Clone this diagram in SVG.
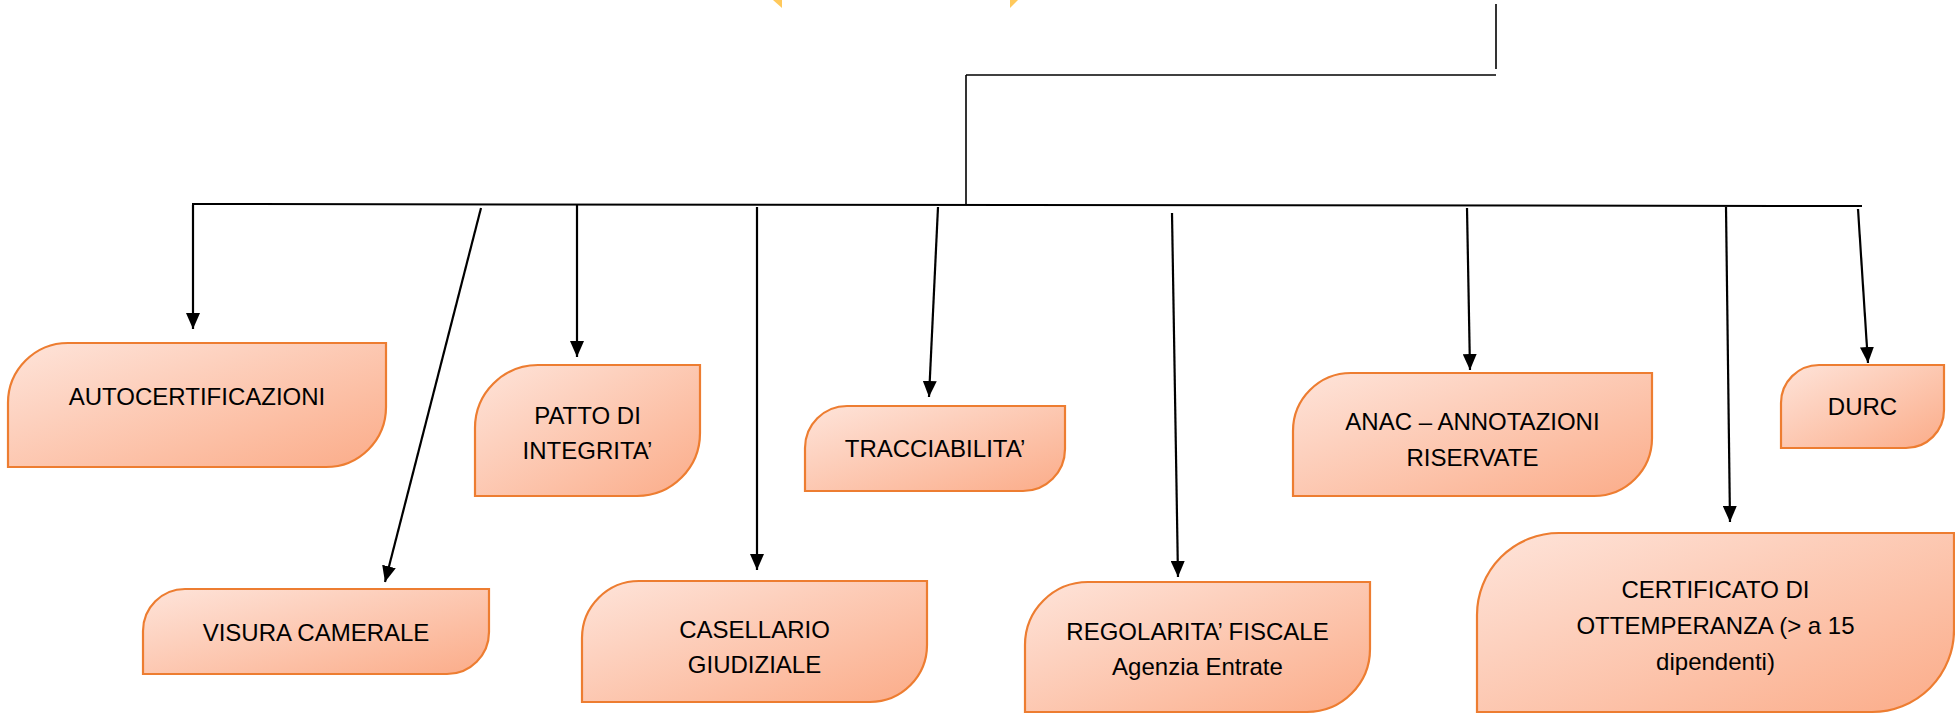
<svg xmlns="http://www.w3.org/2000/svg" width="1955" height="715" viewBox="0 0 1955 715">
<defs>
<linearGradient id="g" x1="0" y1="0" x2="1" y2="1">
<stop offset="0" stop-color="#FEE4DA"/>
<stop offset="1" stop-color="#FBAC89"/>
</linearGradient>
<marker id="ah" viewBox="0 0 16 14" refX="16" refY="7" markerWidth="16" markerHeight="14" markerUnits="userSpaceOnUse" orient="auto">
<path d="M0,0 L16,7 L0,14 Z" fill="#000"/>
</marker>
</defs>
<style>
.box{fill:url(#g);stroke:#ED7D31;stroke-width:2.2}
.t{font-family:"Liberation Sans",Arial,sans-serif;font-size:24px;fill:#000;text-anchor:middle}
.c{stroke:#000;stroke-width:1.6;fill:none}
.a{stroke:#000;stroke-width:2.2;fill:none;marker-end:url(#ah)}
.y{fill:#FFC95C}
</style>
<rect width="1955" height="715" fill="#fff"/>
<polygon class="y" points="773,0 782,0 782,8"/>
<polygon class="y" points="1010,0 1018,0 1010,8"/>
<g id="connectors">
<line class="c" x1="1496" y1="4" x2="1496" y2="69"/>
<line class="c" x1="966" y1="75" x2="1496" y2="75"/>
<line class="c" x1="966" y1="75" x2="966" y2="204"/>
<line class="c" x1="192" y1="204" x2="1862" y2="206" style="stroke-width:2"/>
<line class="a" x1="193" y1="205" x2="193" y2="329"/>
<line class="a" x1="481" y1="208" x2="385" y2="582"/>
<line class="a" x1="577" y1="205" x2="577" y2="357"/>
<line class="a" x1="757" y1="207" x2="757" y2="570"/>
<line class="a" x1="938" y1="207" x2="929" y2="397"/>
<line class="a" x1="1172" y1="213" x2="1178" y2="577"/>
<line class="a" x1="1467" y1="208" x2="1470" y2="370"/>
<line class="a" x1="1726" y1="207" x2="1730" y2="522"/>
<line class="a" x1="1858" y1="209" x2="1868" y2="363"/>
</g>
<g id="autocertificazioni">
<path class="box" d="M68,343 H386 V407 A60,60 0 0 1 326,467 H8 V403 A60,60 0 0 1 68,343 Z"/>
<text class="t" x="197" y="405">AUTOCERTIFICAZIONI</text>
</g>
<g id="visura">
<path class="box" d="M185,589 H489 V632 A42,42 0 0 1 447,674 H143 V631 A42,42 0 0 1 185,589 Z"/>
<text class="t" x="316" y="641">VISURA CAMERALE</text>
</g>
<g id="patto">
<path class="box" d="M538,365 H700 V433 A63,63 0 0 1 637,496 H475 V428 A63,63 0 0 1 538,365 Z"/>
<text class="t" x="587.5" y="424">PATTO DI</text>
<text class="t" x="587.5" y="459">INTEGRITA’</text>
</g>
<g id="casellario">
<path class="box" d="M639,581 H927 V645 A57,57 0 0 1 870,702 H582 V638 A57,57 0 0 1 639,581 Z"/>
<text class="t" x="754.5" y="638">CASELLARIO</text>
<text class="t" x="754.5" y="673">GIUDIZIALE</text>
</g>
<g id="tracciabilita">
<path class="box" d="M847,406 H1065 V449 A42,42 0 0 1 1023,491 H805 V448 A42,42 0 0 1 847,406 Z"/>
<text class="t" x="935" y="457">TRACCIABILITA’</text>
</g>
<g id="regolarita">
<path class="box" d="M1088,582 H1370 V649 A63,63 0 0 1 1307,712 H1025 V645 A63,63 0 0 1 1088,582 Z"/>
<text class="t" x="1197.5" y="640">REGOLARITA’ FISCALE</text>
<text class="t" x="1197.5" y="675">Agenzia Entrate</text>
</g>
<g id="anac">
<path class="box" d="M1351,373 H1652 V438 A58,58 0 0 1 1594,496 H1293 V431 A58,58 0 0 1 1351,373 Z"/>
<text class="t" x="1472.5" y="430">ANAC – ANNOTAZIONI</text>
<text class="t" x="1472.5" y="466">RISERVATE</text>
</g>
<g id="durc">
<path class="box" d="M1819,365 H1944 V410 A38,38 0 0 1 1906,448 H1781 V403 A38,38 0 0 1 1819,365 Z"/>
<text class="t" x="1862.5" y="415">DURC</text>
</g>
<g id="certificato">
<path class="box" d="M1559,533 H1954 V630 A82,82 0 0 1 1872,712 H1477 V615 A82,82 0 0 1 1559,533 Z"/>
<text class="t" x="1715.5" y="598">CERTIFICATO DI</text>
<text class="t" x="1715.5" y="634">OTTEMPERANZA (&gt; a 15</text>
<text class="t" x="1715.5" y="670">dipendenti)</text>
</g>
</svg>
